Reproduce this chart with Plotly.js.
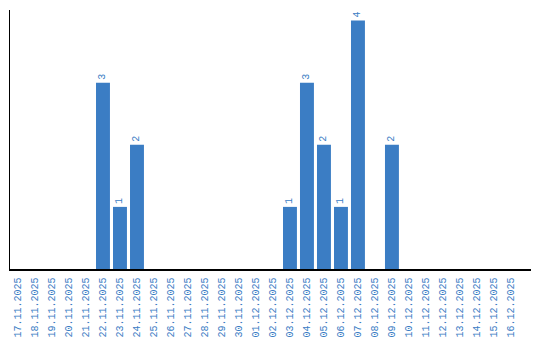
<!DOCTYPE html>
<html><head><meta charset="utf-8">
<script src="https://cdn.plot.ly/plotly-3.0.1.min.js"></script>
<style>html,body{margin:0;padding:0;background:#fff}#c{width:540px;height:340px}</style>
</head><body><div id="c"></div>
<script>
const dates = ["17.11.2025","18.11.2025","19.11.2025","20.11.2025","21.11.2025","22.11.2025","23.11.2025","24.11.2025","25.11.2025","26.11.2025","27.11.2025","28.11.2025","29.11.2025","30.11.2025","01.12.2025","02.12.2025","03.12.2025","04.12.2025","05.12.2025","06.12.2025","07.12.2025","08.12.2025","09.12.2025","10.12.2025","11.12.2025","12.12.2025","13.12.2025","14.12.2025","15.12.2025","16.12.2025"];
const counts = [0,0,0,0,0,3,1,2,0,0,0,0,0,0,0,0,1,3,2,1,4,0,2,0,0,0,0,0,0,0];
const labels = counts.map(v => v > 0 ? String(v) : "");
const blue = "#3b7dc4";
Plotly.newPlot("c", [{
  type: "bar", x: dates, y: counts, text: labels,
  textposition: "outside", textangle: -90, cliponaxis: false,
  textfont: {family: "Liberation Mono", size: 10, color: blue},
  marker: {color: blue}, hoverinfo: "none"
}], {
  width: 540, height: 340,
  margin: {l: 10, r: 9, t: 10, b: 71},
  paper_bgcolor: "#fff", plot_bgcolor: "#fff",
  bargap: 0.18, showlegend: false,
  xaxis: {type: "category", range: [-0.47, 30.18], tickangle: -90, showline: true, linecolor: "#000", linewidth: 1.5,
    showgrid: false, zeroline: false, ticks: "", ticklabelstandoff: 3,
    tickfont: {family: "Liberation Mono", size: 10, color: blue}},
  yaxis: {range: [0, 4.17], showline: true, linecolor: "#000", linewidth: 1.5,
    showgrid: false, zeroline: false, showticklabels: false, ticks: ""}
}, {displayModeBar: false, staticPlot: true});
</script></body></html>
